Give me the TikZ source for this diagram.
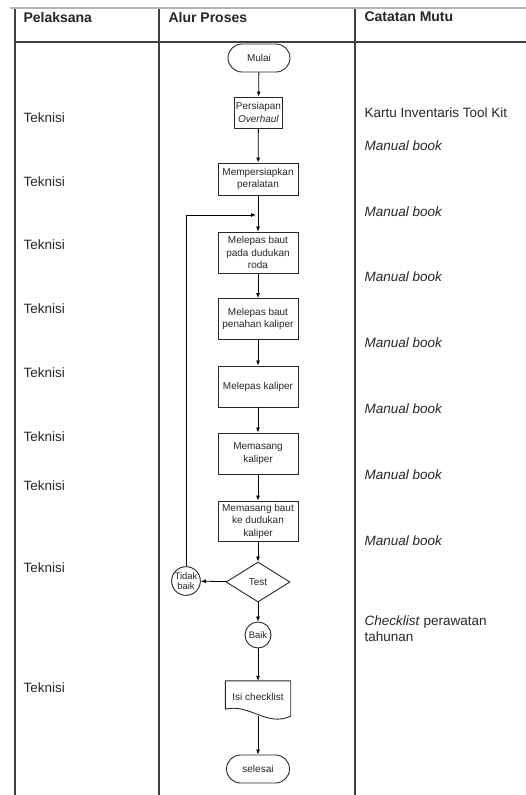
\documentclass[tikz,border=0pt]{standalone}
\usepackage{fontspec}
\setmainfont{Liberation Sans}
\usetikzlibrary{arrows.meta,shapes.geometric,shapes.misc}

\tikzset{
  rule/.style={draw=black!75, line width=1.3pt},
  head/.style={anchor=west, font=\fontsize{14}{16}\selectfont\bfseries, text=black!85},
  lefttxt/.style={anchor=west, font=\fontsize{13.5}{16}\selectfont, text=black!85},
  righttxt/.style={anchor=west, font=\fontsize{13.5}{16}\selectfont, text=black!85, align=left},
  proc/.style={draw=black!85, line width=0.9pt, minimum width=80pt, minimum height=41pt,
    align=center, inner sep=1pt, font=\fontsize{10}{12.5}\selectfont, text=black!85},
  term/.style={rounded rectangle, draw=black!85, line width=0.9pt, minimum height=28pt,
    inner sep=1pt, font=\fontsize{10}{12}\selectfont, text=black!85},
  conn/.style={circle, draw=black!85, line width=0.9pt, minimum size=26pt, inner sep=0pt,
    align=center, font=\fontsize{9.5}{10.5}\selectfont, text=black!85},
  decide/.style={diamond, draw=black!85, line width=0.9pt, aspect=1.6, minimum width=64pt,
    minimum height=40pt, inner sep=0pt, font=\fontsize{10}{12}\selectfont, text=black!85},
  flow/.style={draw=black, line width=0.8pt, -{Latex[length=5pt,width=4pt]}}
}

\begin{document}
\begin{tikzpicture}[x=1pt, y=-1pt]
  \useasboundingbox (0,0) rectangle (526,795);

  % table rules
  \draw[line width=2.5pt, black!30] (10,8) -- (526,8);
  \draw[rule] (15,9) -- (15,795);
  \draw[rule] (159,9) -- (159,795);
  \draw[rule] (355,9) -- (355,795);
  \draw[rule] (15,42) -- (526,42);

  % column headings
  \node[head] (h1) at (20,17) {Pelaksana};
  \node[head] (h2) at (165,17) {Alur Proses};
  \node[head] (h3) at (361,17) {Catatan Mutu};

  % executor column
  \foreach \y [count=\i] in {118,182,245,309,373,437,486,568,688}
    \node[lefttxt] (tek\i) at (20,\y) {Teknisi};

  % quality record column
  \node[righttxt] (kartu) at (361,113) {Kartu Inventaris Tool Kit};
  \foreach \y [count=\i] in {146,212,277,343,409,475,541}
    \node[righttxt] (mb\i) at (361,\y) {\itshape Manual book};
  \node[righttxt] (chk) at (361,629) {\textit{Checklist} perawatan\\tahunan};

  % process flow
  \node[term, minimum width=64pt] (mulai) at (259,58) {Mulai};
  \node[proc, minimum width=48pt, minimum height=31pt] (p1) at (258.5,112.5) {Persiapan\\\textit{Overhaul}};
  \node[proc, minimum height=32pt] (p2) at (258,179) {Mempersiapkan\\peralatan};
  \node[proc] (p3) at (258,252.5) {Melepas baut\\pada dudukan\\roda};
  \node[proc] (p4) at (258,319) {Melepas baut\\penahan kaliper};
  \node[proc] (p5) at (258,386.5) {Melepas kaliper};
  \node[proc] (p6) at (258,453.5) {Memasang\\kaliper};
  \node[proc, minimum height=40pt] (p7) at (258,521) {Memasang baut\\ke dudukan\\kaliper};
  \node[decide] (test) at (258,582) {Test};
  \node[conn] (tidak) at (186,581) {Tidak\\baik};
  \node[conn] (baik) at (258,635) {Baik};

  % document symbol
  \node[minimum width=65pt, minimum height=32pt, inner sep=0pt,
        font=\fontsize{10}{12}\selectfont, text=black!85] (doc) at (258,697) {Isi checklist};
  \draw[black!85, line width=0.9pt]
    (doc.north west) -- (doc.north east) -- ([yshift=-3pt]doc.south east)
    .. controls ([xshift=-24pt,yshift=-14pt]doc.south east) and ([xshift=24pt,yshift=10pt]doc.south west)
    .. ([yshift=4pt]doc.south west) -- cycle;
  \coordinate (docb) at (258,716);

  \node[term, minimum width=65pt] (selesai) at (258,769) {selesai};

  % connectors
  \draw[flow] (mulai) -- (p1);
  \draw[flow] (p1) -- (p2);
  \draw[flow] (p2) -- (p3);
  \draw[flow] (p3) -- (p4);
  \draw[flow] (p4) -- (p5);
  \draw[flow] (p5) -- (p6);
  \draw[flow] (p6) -- (p7);
  \draw[flow] (p7) -- (test);
  \draw[flow] (test) -- (tidak);
  \draw[flow] (test) -- (baik);
  \draw[flow] (baik) -- (doc.north);
  \draw[flow] (docb) -- (selesai);
  \coordinate (loopin) at (256,215);
  \draw[flow] (tidak.north) -- (tidak.north |- loopin) -- (loopin);
\end{tikzpicture}
\end{document}
